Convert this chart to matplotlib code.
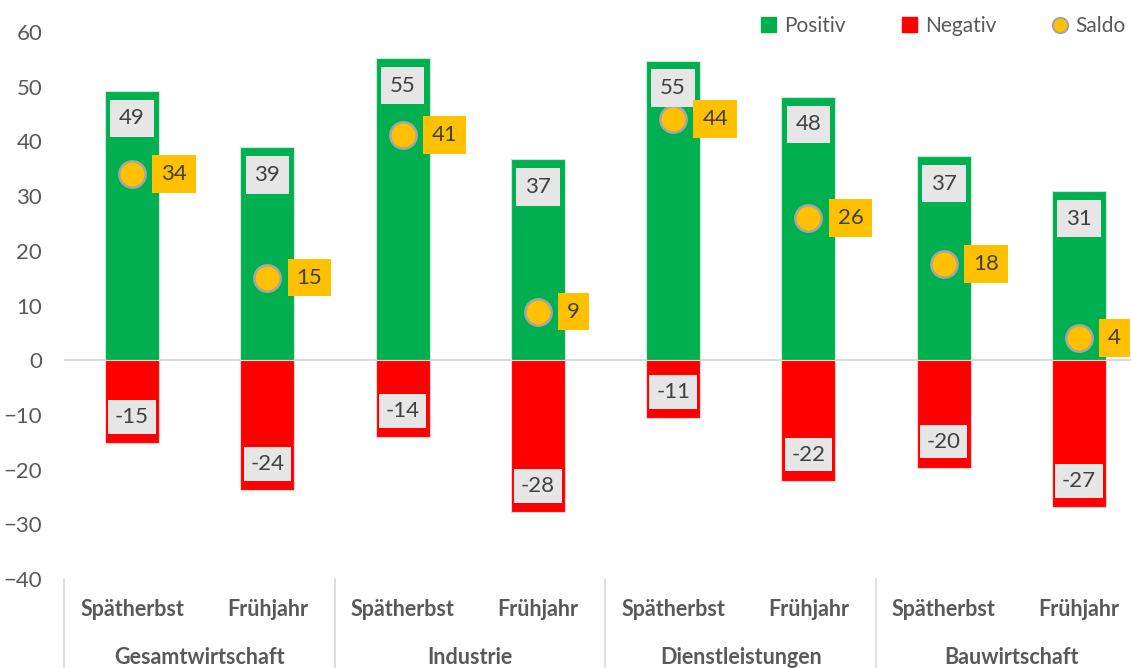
import matplotlib.pyplot as plt
import matplotlib.transforms as mtransforms
from matplotlib.lines import Line2D
from matplotlib.patches import Patch
import numpy as np

plt.rcParams['font.family'] = ['Lato', 'DejaVu Sans']

# data
groups = ['Gesamtwirtschaft', 'Industrie', 'Dienstleistungen', 'Bauwirtschaft']
seasons = ['Spätherbst', 'Frühjahr']
positiv = [49.2, 38.9, 55.2, 36.7, 54.7, 48.1, 37.3, 30.9]
negativ = [-15.2, -23.8, -14.1, -27.8, -10.6, -22.1, -19.7, -26.9]
saldo = [34, 15.1, 41.1, 8.9, 44.1, 26, 17.6, 4]

green = '#00B050'
red = '#FF0000'
gold = '#FFC000'
txt = '#404040'
box_gray = '#E7E6E6'

fig = plt.figure(figsize=(11.31, 6.68), dpi=100)
ax = fig.add_axes([64.4 / 1131, 89 / 668, (1146.6 - 64.4) / 1131, 547 / 668])

x = np.arange(len(positiv))
ax.bar(x, positiv, width=0.4, color=green, edgecolor='#c8ead5', linewidth=0.8, zorder=2)
ax.bar(x, negativ, width=0.4, color=red, edgecolor='#ffd0d0', linewidth=0.8, zorder=2)
ax.axhline(0, color='#D9D9D9', lw=1.5, zorder=1)
ax.scatter(x, saldo, s=360, color=gold, edgecolor='#A5A5A5', linewidth=1.8, zorder=4)

lab = dict(fontsize=16, color=txt, zorder=5)
bx = 'square,pad=0.4'
for i in range(len(x)):
    ax.text(x[i], positiv[i] - 5.0, f'{round(positiv[i]):d}', ha='center', va='center',
            bbox=dict(boxstyle=bx, fc=box_gray, ec='none'), **lab)
    ax.text(x[i], negativ[i] + 4.8, f'{round(negativ[i]):d}', ha='center', va='center',
            bbox=dict(boxstyle='square,pad=0.3', fc=box_gray, ec='none'), **lab)
    ax.annotate(f'{round(saldo[i]):d}', (x[i], saldo[i]), xytext=(21, 0),
                textcoords='offset points', ha='left', va='center',
                bbox=dict(boxstyle=bx, fc=gold, ec='none'), **lab)

ax.set_xlim(-0.5, 7.5)
ax.set_ylim(-40, 60)
ax.set_yticks(range(-40, 61, 10))
ax.tick_params(axis='y', length=0, labelsize=16, labelcolor='#595959', pad=16)
ax.set_xticks([])
for s in ax.spines.values():
    s.set_visible(False)

# two-level category axis
trans = mtransforms.blended_transform_factory(ax.transData, ax.transAxes)
for b in [-0.5, 1.5, 3.5, 5.5]:
    ax.plot([b, b], [0, -0.17], color='#D9D9D9', lw=1.2, transform=trans, clip_on=False)
for i in range(len(x)):
    ax.text(x[i], -0.055, seasons[i % 2], transform=trans, ha='center', va='center',
            fontsize=15.5, fontweight='bold', color='#595959')
for g, name in enumerate(groups):
    ax.text(2 * g + 0.5, -0.144, name, transform=trans, ha='center', va='center',
            fontsize=15.5, fontweight='bold', color='#595959')

handles = [Patch(color=green, label='Positiv'),
           Patch(color=red, label='Negativ'),
           Line2D([], [], marker='o', ls='none', markersize=11, markerfacecolor=gold,
                  markeredgecolor='#A5A5A5', markeredgewidth=1.5, label='Saldo')]
fig.legend(handles=handles, loc='center right', bbox_to_anchor=(1.012, 1 - 26 / 668),
           ncol=3, frameon=False, fontsize=15, labelcolor='#595959',
           handlelength=0.7, handleheight=0.7, handletextpad=0.4, columnspacing=2.7)

fig.savefig('out.png', dpi=100)
